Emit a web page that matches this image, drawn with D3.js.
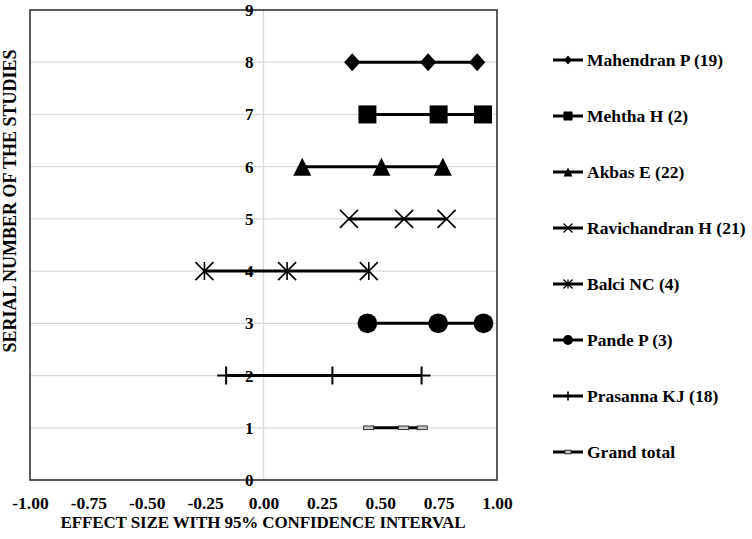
<!DOCTYPE html>
<html>
<head>
<meta charset="utf-8">
<script src="https://cdn.jsdelivr.net/npm/d3@7"></script>
<style>
  body { margin: 0; background: #fff; }
</style>
</head>
<body>
<svg id="chart"></svg>
<script>
// study labels, top to bottom
var studies = ['Mahendran P (19)', 'Mehtha H (2)', 'Akbas E (22)', 'Ravichandran H (21)',
    'Balci NC (4)', 'Pande P (3)', 'Prasanna KJ (18)', 'Grand total'];
var serial = [8, 7, 6, 5, 4, 3, 2, 1];
var lower = [0.38, 0.445, 0.166, 0.366, -0.253, 0.445, -0.16, 0.45];
var effect = [0.705, 0.75, 0.505, 0.602, 0.101, 0.748, 0.295, 0.60];
var upper = [0.915, 0.94, 0.768, 0.784, 0.451, 0.942, 0.677, 0.68];
var markers = ['diamond', 'square', 'triangle', 'cross', 'star', 'circle', 'plus', 'dash'];
var xTicks = [-1, -0.75, -0.5, -0.25, 0, 0.25, 0.5, 0.75, 1];
var yTicks = [0, 1, 2, 3, 4, 5, 6, 7, 8, 9];

var FONT = '"Liberation Serif", "Times New Roman", serif';

function txt(sel, size) {
    return sel.style('font-family', FONT).style('font-weight', 'bold').style('font-size', size + 'px').style('fill', '#000');
}

function start() {
    var svg = d3.select('#chart')
        .attr('width', 752)
        .attr('height', 539);

    var x = d3.scaleLinear().domain([-1, 1]).range([30, 497]);
    var y = d3.scaleLinear().domain([0, 9]).range([480, 10]);

    // gridlines
    svg.append('g').selectAll('line')
        .data(yTicks.slice(1, 9))
        .enter().append('line')
        .attr('x1', x(-1)).attr('x2', x(1))
        .attr('y1', function (d) { return y(d); })
        .attr('y2', function (d) { return y(d); })
        .attr('stroke', '#d9d9d9').attr('stroke-width', 1.3);
    svg.append('line')
        .attr('x1', x(0)).attr('x2', x(0))
        .attr('y1', y(0)).attr('y2', y(9))
        .attr('stroke', '#d9d9d9').attr('stroke-width', 1.3);

    // frame
    svg.append('rect')
        .attr('x', x(-1)).attr('y', y(9))
        .attr('width', x(1) - x(-1)).attr('height', y(0) - y(9))
        .attr('fill', 'none').attr('stroke', '#333').attr('stroke-width', 1.6);

    // y tick labels sit on the x=0 line
    var yAxis = d3.axisLeft(y).tickValues(yTicks).tickSize(0).tickPadding(10).tickFormat(d3.format('d'));
    var gy = svg.append('g').attr('transform', 'translate(' + x(0) + ',0)').call(yAxis);
    gy.select('.domain').remove();
    txt(gy.selectAll('text'), 17);

    // x tick labels
    var xAxis = d3.axisBottom(x).tickValues(xTicks).tickSize(0).tickPadding(17)
        .tickFormat(function (d) { return d3.format('.2f')(d).replace('\u2212', '-'); });
    var gx = svg.append('g').attr('transform', 'translate(0,' + y(0) + ')').call(xAxis);
    gx.select('.domain').remove();
    txt(gx.selectAll('text'), 17.5);

    txt(svg.append('text'), 17)
        .attr('x', 263).attr('y', 528)
        .attr('text-anchor', 'middle')
        .attr('textLength', 405).attr('lengthAdjust', 'spacing')
        .text('EFFECT SIZE WITH 95% CONFIDENCE INTERVAL');
    txt(svg.append('text'), 18)
        .attr('transform', 'translate(16,201) rotate(-90)')
        .attr('text-anchor', 'middle')
        .attr('textLength', 303).attr('lengthAdjust', 'spacing')
        .text('SERIAL NUMBER OF THE STUDIES');

    var rows = studies.map(function (s, i) {
        return { name: s, y: serial[i], pts: [lower[i], effect[i], upper[i]], m: markers[i] };
    });

    // lines
    svg.append('g').selectAll('line')
        .data(rows)
        .enter().append('line')
        .attr('x1', function (d) { return x(d.pts[0]); })
        .attr('x2', function (d) { return x(d.pts[2]); })
        .attr('y1', function (d) { return y(d.y); })
        .attr('y2', function (d) { return y(d.y); })
        .attr('stroke', '#000').attr('stroke-width', 3);

    rows.forEach(function (r) {
        r.pts.forEach(function (p) {
            drawMarker(svg, r.m, x(p), y(r.y), 1);
        });
    });

    // legend
    var lg = svg.append('g').selectAll('g')
        .data(rows)
        .enter().append('g')
        .attr('transform', function (d, i) { return 'translate(553,' + (60 + i * 56) + ')'; });
    lg.append('line')
        .attr('x1', 0).attr('x2', 30)
        .attr('stroke', '#000').attr('stroke-width', 3);
    lg.each(function (d) {
        drawMarker(d3.select(this), d.m, 15, 0, 0.5);
    });
    txt(lg.append('text'), 17.5)
        .attr('x', 34).attr('y', 0).attr('dy', '0.35em')
        .text(function (d) { return d.name; });
}

function drawMarker(g, type, cx, cy, k) {
    var s = 9 * k;
    if (type === 'diamond') {
        g.append('path')
            .attr('d', 'M' + cx + ',' + (cy - s) + 'L' + (cx + s * 0.9) + ',' + cy + 'L' + cx + ',' + (cy + s) + 'L' + (cx - s * 0.9) + ',' + cy + 'Z')
            .attr('fill', '#000');
    } else if (type === 'square') {
        g.append('rect').attr('x', cx - s).attr('y', cy - s).attr('width', 2 * s).attr('height', 2 * s).attr('fill', '#000');
    } else if (type === 'triangle') {
        g.append('path')
            .attr('d', 'M' + cx + ',' + (cy - s) + 'L' + (cx + s) + ',' + (cy + s) + 'L' + (cx - s) + ',' + (cy + s) + 'Z')
            .attr('fill', '#000');
    } else if (type === 'circle') {
        g.append('circle').attr('cx', cx).attr('cy', cy).attr('r', s * 1.1).attr('fill', '#000');
    } else if (type === 'cross') {
        g.append('path')
            .attr('d', 'M' + (cx - s) + ',' + (cy - s) + 'L' + (cx + s) + ',' + (cy + s) + 'M' + (cx + s) + ',' + (cy - s) + 'L' + (cx - s) + ',' + (cy + s))
            .attr('stroke', '#000').attr('stroke-width', 1.6 * Math.max(k, 0.8));
    } else if (type === 'star') {
        g.append('path')
            .attr('d', 'M' + (cx - s) + ',' + (cy - s) + 'L' + (cx + s) + ',' + (cy + s) + 'M' + (cx + s) + ',' + (cy - s) + 'L' + (cx - s) + ',' + (cy + s) +
                'M' + cx + ',' + (cy - s) + 'L' + cx + ',' + (cy + s))
            .attr('stroke', '#000').attr('stroke-width', 1.6 * Math.max(k, 0.8));
    } else if (type === 'plus') {
        g.append('path')
            .attr('d', 'M' + (cx - s) + ',' + cy + 'L' + (cx + s) + ',' + cy + 'M' + cx + ',' + (cy - s) + 'L' + cx + ',' + (cy + s))
            .attr('stroke', '#000').attr('stroke-width', 2 * Math.max(k, 0.8));
    } else if (type === 'dash') {
        var w = 10 * Math.max(k, 0.6);
        g.append('rect').attr('x', cx - w / 2).attr('y', cy - 1.8).attr('width', w).attr('height', 3.6)
            .attr('fill', '#c8c8c8').attr('stroke', '#333').attr('stroke-width', 1);
    }
}

start();
</script>
</body>
</html>
